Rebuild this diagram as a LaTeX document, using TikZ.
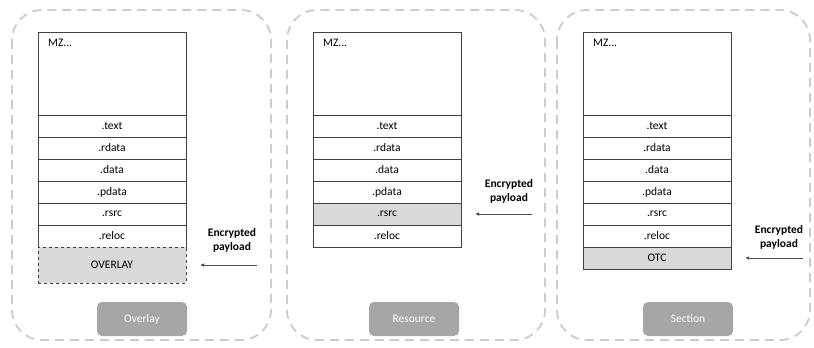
\documentclass[tikz,border=0pt]{standalone}
\usepackage{fontspec}
\setmainfont{Carlito}
\usetikzlibrary{positioning,arrows.meta}

\definecolor{secgray}{HTML}{D9D9D9}
\definecolor{btngray}{HTML}{A6A6A6}
\definecolor{panelline}{HTML}{CCCCCC}

\begin{document}
\begin{tikzpicture}[x=1pt, y=-1pt, >={Latex[length=4pt,width=3.5pt]},
    panel/.style={draw=panelline, dash pattern=on 9pt off 6pt, line width=1.8pt, rounded corners=30pt},
    sect/.style={draw=black!75, line width=0.8pt, minimum width=148pt, minimum height=22pt,
                 inner sep=0pt, outer sep=0pt, font=\fontsize{11.5}{13}\selectfont},
    hdr/.style={sect, minimum height=83pt},
    hit/.style={sect, fill=secgray},
    btn/.style={fill=btngray, rounded corners=5pt, minimum width=90pt, minimum height=34pt,
                text=white, font=\fontsize{11.5}{13}\selectfont},
    enc/.style={align=center, font=\bfseries\fontsize{11.5}{14}\selectfont, inner sep=0pt},
    feed/.style={->, draw=black!70, line width=0.8pt, shorten >=14pt}]

    \useasboundingbox (0,0) rectangle (814,348);

    % outer frames
    \draw[panel] (12,10) rectangle (271,340);
    \draw[panel] (287,10) rectangle (545,340);
    \draw[panel] (557,10) rectangle (810,340);

    % PE layout, one per frame
    \foreach \i/\x in {1/112, 2/387, 3/657} {
        \node[hdr] (hdr\i) at (\x,73.5) {};
        \node[inner sep=0pt, font=\fontsize{11.5}{13}\selectfont] (mz\i) [below right=7pt and 10pt of hdr\i.north west] {MZ...};
        \foreach \n [count=\j] in {.text, .rdata, .data, .pdata, .rsrc, .reloc}
            \node[sect] (s\i\j) at (\x,104+22*\j) {\n};
    }

    % payload places
    \node[hit, dashed, minimum height=36pt] (ovl) at (112,265) {OVERLAY};
    \node[hit] (rsrc) at (387,214) {.rsrc};
    \node[hit] (otc) at (657,258) {OTC};

    % encrypted payload arrows
    \node[enc] (enc1) at (232,240) {Encrypted\\payload};
    \node[enc] (enc2) at (509,191) {Encrypted\\payload};
    \node[enc] (enc3) at (779,237) {Encrypted\\payload};
    \coordinate (a1) at (257,265);
    \coordinate (a2) at (532,214);
    \coordinate (a3) at (803,258);
    \draw[feed] (a1) -- (ovl);
    \draw[feed] (a2) -- (rsrc);
    \draw[feed] (a3) -- (otc);

    % captions
    \node[btn] (b1) at (142,319) {Overlay};
    \node[btn] (b2) at (414,319) {Resource};
    \node[btn] (b3) at (688,319) {Section};
\end{tikzpicture}
\end{document}
